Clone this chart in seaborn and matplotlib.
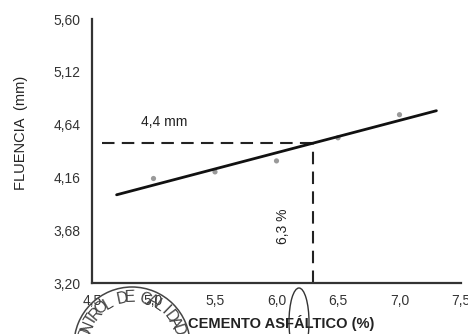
import numpy as np
import pandas as pd
import matplotlib
matplotlib.use("Agg")
import matplotlib.pyplot as plt
from matplotlib.patches import Arc, Ellipse
import seaborn as sns

# Ensayo Marshall: fluencia vs. contenido de cemento asfáltico
cemento = [5.0, 5.5, 6.0, 6.5, 7.0]
fluencia = [4.15, 4.21, 4.31, 4.52, 4.73]
x_ticks = [4.5, 5.0, 5.5, 6.0, 6.5, 7.0, 7.5]
y_ticks = [3.20, 3.68, 4.16, 4.64, 5.12, 5.60]
fit_range = [4.7, 7.3]
optimo_ca = 6.3
texto_fluencia = "4,4 mm"
texto_ca = "6,3 %"

sns.set_style("white")
plt.rcParams["font.family"] = ["Liberation Sans", "DejaVu Sans"]

fig = plt.figure(figsize=(4.68, 3.34), dpi=100)
ax = fig.add_axes([92 / 468, 1 - 283 / 334, (461 - 92) / 468, (283 - 19) / 334])

df = pd.DataFrame({"ca": cemento, "fl": fluencia})
sns.scatterplot(data=df, x="ca", y="fl", ax=ax, color="#9a9a9a", s=14,
                edgecolor="none", zorder=3)

# recta de ajuste lineal
slope, intercept = np.polyfit(cemento, fluencia, 1)
xf = np.array(fit_range)
fit_df = pd.DataFrame({"ca": xf, "fl": slope * xf + intercept})
sns.lineplot(data=fit_df, x="ca", y="fl", ax=ax, color="#111111", lw=2.0, zorder=4)

# lectura de la fluencia en el contenido óptimo
y_opt = slope * optimo_ca + intercept
dash = (0, (6, 3.5))
ax.plot([4.58, optimo_ca], [y_opt, y_opt], color="#222222", lw=1.5, linestyle=dash)
ax.plot([optimo_ca, optimo_ca], [y_ticks[0], y_opt], color="#222222", lw=1.5,
        linestyle=dash)

ax.text(5.09, 4.66, texto_fluencia, fontsize=10, color="#222222", ha="center", va="center")
ax.text(6.05, 3.72, texto_ca, fontsize=10, color="#222222", rotation=90,
        ha="center", va="center")

ax.set_xlim(x_ticks[0], x_ticks[-1])
ax.set_ylim(y_ticks[0], y_ticks[-1])
ax.set_xticks(x_ticks)
ax.set_yticks(y_ticks)
ax.set_xticklabels([f"{v:.1f}".replace(".", ",") for v in x_ticks], color="#333333")
ax.set_yticklabels([f"{v:.2f}".replace(".", ",") for v in y_ticks], color="#333333")
ax.tick_params(axis="x", direction="out", length=4, width=1.2, labelsize=10, pad=4,
               color="#333333")
ax.tick_params(axis="y", direction="out", length=4, width=1.2, labelsize=10, pad=4,
               color="#333333")

for side in ["top", "right"]:
    ax.spines[side].set_visible(False)
for side in ["left", "bottom"]:
    ax.spines[side].set_linewidth(1.6)
    ax.spines[side].set_color("#333333")

ax.set_xlabel("CEMENTO ASFÁLTICO (%)", fontsize=10.5, fontweight="bold", color="#222222")
ax.set_ylabel("FLUENCIA  (mm)", fontsize=10.5, color="#222222",
              family=["Liberation Sans Narrow", "Liberation Sans", "DejaVu Sans"])
ax.xaxis.set_label_coords((281 - 92) / (461 - 92), -(315 - 283) / (283 - 19))
ax.yaxis.set_label_coords(-(92 - 28) / (461 - 92), (283 - 133) / (283 - 19))

# sello del laboratorio y rúbrica sobre la figura
ov = fig.add_axes([0, 0, 1, 1], zorder=10)
ov.set_xlim(0, 468)
ov.set_ylim(334, 0)
ov.axis("off")
ov.patch.set_alpha(0)
ov.add_patch(Arc((132, 345), 116, 116, theta1=0, theta2=360, color="#444444", lw=1.1))
sello = "CONTROL DE CALIDAD"
start, step = -86.0, 9.3
for i, ch in enumerate(sello):
    ang = np.deg2rad(start + i * step)
    px = 132 + 48 * np.sin(ang)
    py = 345 - 48 * np.cos(ang)
    ov.text(px, py, ch, fontsize=11.5, color="#444444", ha="center", va="center",
            rotation=-(start + i * step))
ov.add_patch(Ellipse((299, 322), 20, 68, fill=False, edgecolor="#333333", lw=1.0))

fig.savefig("out.png", dpi=100)
